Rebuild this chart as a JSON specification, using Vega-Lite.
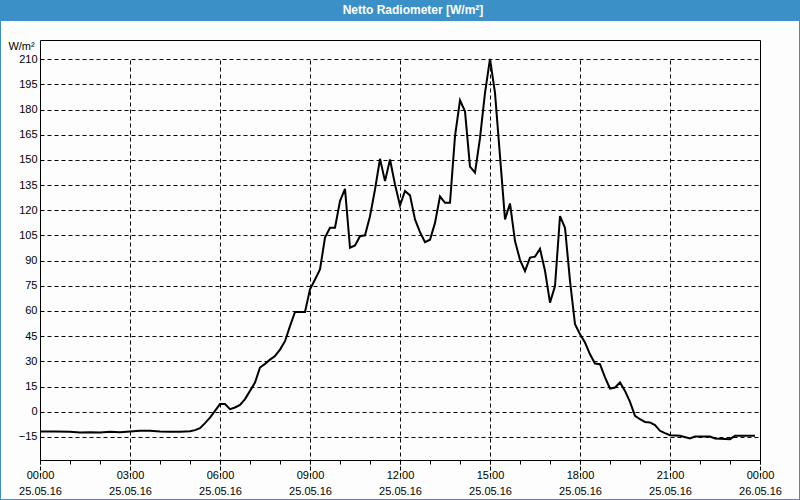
{
  "$schema": "https://vega.github.io/schema/vega-lite/v6.json",
  "autosize": {"type": "none"},
  "width": 798,
  "height": 478,
  "padding": {"left": 1, "right": 1, "top": 21, "bottom": 1},
  "background": "#3c90c8",
  "title": {"text": "Netto Radiometer [W/m²]", "color": "#ffffff", "font": "Liberation Sans", "fontSize": 12, "fontWeight": "bold", "anchor": "middle", "frame": "group", "baseline": "middle", "offset": -1, "dx": 13},
  "config": {"view": {"fill": "#fcfdfc", "stroke": null}, "font": "Liberation Sans"},
  "resolve": {"axis": {"x": "independent", "y": "independent"}},
  "data": {"values": [
    {"t": "2016-05-25T00:00:00Z", "v": -11.8},
    {"t": "2016-05-25T00:30:00Z", "v": -11.8},
    {"t": "2016-05-25T01:00:00Z", "v": -12.0},
    {"t": "2016-05-25T01:20:00Z", "v": -12.4},
    {"t": "2016-05-25T01:40:00Z", "v": -12.2},
    {"t": "2016-05-25T02:00:00Z", "v": -12.4},
    {"t": "2016-05-25T02:20:00Z", "v": -12.0},
    {"t": "2016-05-25T02:40:00Z", "v": -12.2},
    {"t": "2016-05-25T03:00:00Z", "v": -11.8},
    {"t": "2016-05-25T03:20:00Z", "v": -11.4},
    {"t": "2016-05-25T03:40:00Z", "v": -11.4},
    {"t": "2016-05-25T04:00:00Z", "v": -11.8},
    {"t": "2016-05-25T04:20:00Z", "v": -12.0},
    {"t": "2016-05-25T04:40:00Z", "v": -12.0},
    {"t": "2016-05-25T05:00:00Z", "v": -11.6},
    {"t": "2016-05-25T05:10:00Z", "v": -11.0},
    {"t": "2016-05-25T05:20:00Z", "v": -9.8},
    {"t": "2016-05-25T05:30:00Z", "v": -6.8},
    {"t": "2016-05-25T05:40:00Z", "v": -3.5},
    {"t": "2016-05-25T05:50:00Z", "v": 0.5},
    {"t": "2016-05-25T06:00:00Z", "v": 4.5},
    {"t": "2016-05-25T06:10:00Z", "v": 4.5},
    {"t": "2016-05-25T06:20:00Z", "v": 1.5},
    {"t": "2016-05-25T06:30:00Z", "v": 2.5},
    {"t": "2016-05-25T06:40:00Z", "v": 4.0},
    {"t": "2016-05-25T06:50:00Z", "v": 7.5},
    {"t": "2016-05-25T07:00:00Z", "v": 12.4},
    {"t": "2016-05-25T07:10:00Z", "v": 17.4},
    {"t": "2016-05-25T07:20:00Z", "v": 26.3},
    {"t": "2016-05-25T07:30:00Z", "v": 28.5},
    {"t": "2016-05-25T07:40:00Z", "v": 31.0},
    {"t": "2016-05-25T07:50:00Z", "v": 33.2},
    {"t": "2016-05-25T08:00:00Z", "v": 37.0},
    {"t": "2016-05-25T08:10:00Z", "v": 42.0},
    {"t": "2016-05-25T08:20:00Z", "v": 51.0},
    {"t": "2016-05-25T08:30:00Z", "v": 59.4},
    {"t": "2016-05-25T08:40:00Z", "v": 59.4},
    {"t": "2016-05-25T08:50:00Z", "v": 59.4},
    {"t": "2016-05-25T09:00:00Z", "v": 72.9},
    {"t": "2016-05-25T09:10:00Z", "v": 78.8},
    {"t": "2016-05-25T09:20:00Z", "v": 84.8},
    {"t": "2016-05-25T09:30:00Z", "v": 103.7},
    {"t": "2016-05-25T09:40:00Z", "v": 109.6},
    {"t": "2016-05-25T09:50:00Z", "v": 109.6},
    {"t": "2016-05-25T10:00:00Z", "v": 125.5},
    {"t": "2016-05-25T10:10:00Z", "v": 132.8},
    {"t": "2016-05-25T10:20:00Z", "v": 97.7},
    {"t": "2016-05-25T10:30:00Z", "v": 99.1},
    {"t": "2016-05-25T10:40:00Z", "v": 104.6},
    {"t": "2016-05-25T10:50:00Z", "v": 105.1},
    {"t": "2016-05-25T11:00:00Z", "v": 116.5},
    {"t": "2016-05-25T11:10:00Z", "v": 132.4},
    {"t": "2016-05-25T11:20:00Z", "v": 150.7},
    {"t": "2016-05-25T11:30:00Z", "v": 137.4},
    {"t": "2016-05-25T11:40:00Z", "v": 150.3},
    {"t": "2016-05-25T11:50:00Z", "v": 135.4},
    {"t": "2016-05-25T12:00:00Z", "v": 122.9},
    {"t": "2016-05-25T12:10:00Z", "v": 131.5},
    {"t": "2016-05-25T12:20:00Z", "v": 128.9},
    {"t": "2016-05-25T12:30:00Z", "v": 114.6},
    {"t": "2016-05-25T12:40:00Z", "v": 107.0},
    {"t": "2016-05-25T12:50:00Z", "v": 101.0},
    {"t": "2016-05-25T13:00:00Z", "v": 102.5},
    {"t": "2016-05-25T13:10:00Z", "v": 112.5},
    {"t": "2016-05-25T13:20:00Z", "v": 128.3},
    {"t": "2016-05-25T13:30:00Z", "v": 124.5},
    {"t": "2016-05-25T13:40:00Z", "v": 124.5},
    {"t": "2016-05-25T13:50:00Z", "v": 164.2},
    {"t": "2016-05-25T14:00:00Z", "v": 185.6},
    {"t": "2016-05-25T14:10:00Z", "v": 179.0},
    {"t": "2016-05-25T14:20:00Z", "v": 146.0},
    {"t": "2016-05-25T14:30:00Z", "v": 142.4},
    {"t": "2016-05-25T14:40:00Z", "v": 163.0},
    {"t": "2016-05-25T14:50:00Z", "v": 190.0},
    {"t": "2016-05-25T15:00:00Z", "v": 210.2},
    {"t": "2016-05-25T15:10:00Z", "v": 190.0},
    {"t": "2016-05-25T15:20:00Z", "v": 152.3},
    {"t": "2016-05-25T15:30:00Z", "v": 114.6},
    {"t": "2016-05-25T15:40:00Z", "v": 124.1},
    {"t": "2016-05-25T15:50:00Z", "v": 101.7},
    {"t": "2016-05-25T16:00:00Z", "v": 90.5},
    {"t": "2016-05-25T16:10:00Z", "v": 83.8},
    {"t": "2016-05-25T16:20:00Z", "v": 91.8},
    {"t": "2016-05-25T16:30:00Z", "v": 92.4},
    {"t": "2016-05-25T16:40:00Z", "v": 97.1},
    {"t": "2016-05-25T16:50:00Z", "v": 84.0},
    {"t": "2016-05-25T17:00:00Z", "v": 65.0},
    {"t": "2016-05-25T17:10:00Z", "v": 74.9},
    {"t": "2016-05-25T17:20:00Z", "v": 116.5},
    {"t": "2016-05-25T17:30:00Z", "v": 109.6},
    {"t": "2016-05-25T17:40:00Z", "v": 78.0},
    {"t": "2016-05-25T17:50:00Z", "v": 52.1},
    {"t": "2016-05-25T18:00:00Z", "v": 46.1},
    {"t": "2016-05-25T18:10:00Z", "v": 41.2},
    {"t": "2016-05-25T18:20:00Z", "v": 34.2},
    {"t": "2016-05-25T18:30:00Z", "v": 28.7},
    {"t": "2016-05-25T18:40:00Z", "v": 28.3},
    {"t": "2016-05-25T18:50:00Z", "v": 20.4},
    {"t": "2016-05-25T19:00:00Z", "v": 13.8},
    {"t": "2016-05-25T19:10:00Z", "v": 14.4},
    {"t": "2016-05-25T19:20:00Z", "v": 17.4},
    {"t": "2016-05-25T19:30:00Z", "v": 12.4},
    {"t": "2016-05-25T19:40:00Z", "v": 5.8},
    {"t": "2016-05-25T19:50:00Z", "v": -2.5},
    {"t": "2016-05-25T20:00:00Z", "v": -4.5},
    {"t": "2016-05-25T20:10:00Z", "v": -6.1},
    {"t": "2016-05-25T20:20:00Z", "v": -6.4},
    {"t": "2016-05-25T20:30:00Z", "v": -8.0},
    {"t": "2016-05-25T20:40:00Z", "v": -11.4},
    {"t": "2016-05-25T20:50:00Z", "v": -12.8},
    {"t": "2016-05-25T21:00:00Z", "v": -14.0},
    {"t": "2016-05-25T21:20:00Z", "v": -14.4},
    {"t": "2016-05-25T21:40:00Z", "v": -16.0},
    {"t": "2016-05-25T21:50:00Z", "v": -14.8},
    {"t": "2016-05-25T22:20:00Z", "v": -14.8},
    {"t": "2016-05-25T22:30:00Z", "v": -16.0},
    {"t": "2016-05-25T23:00:00Z", "v": -16.4},
    {"t": "2016-05-25T23:10:00Z", "v": -14.4},
    {"t": "2016-05-25T23:50:00Z", "v": -14.4}
  ]},
  "layer": [
    {
      "mark": {"type": "line", "color": "#000000", "strokeWidth": 2},
      "encoding": {
        "x": {
          "field": "t", "type": "temporal",
          "scale": {"type": "utc", "domain": [1464134400000, 1464220800000], "range": [39, 759], "nice": false},
          "axis": {
            "orient": "bottom", "offset": -39, "title": null,
            "values": [1464134400000, 1464145200000, 1464156000000, 1464166800000, 1464177600000, 1464188400000, 1464199200000, 1464210000000, 1464220800000],
            "format": "%H:%M",
            "labelOverlap": false, "labelFlush": false, "labelBound": false,
            "labelFont": "Liberation Sans", "labelFontSize": 11, "labelColor": "#000000",
            "labelBaseline": "top", "labelPadding": 5,
            "tickSize": 4, "tickColor": "#000000", "domainColor": "#000000",
            "grid": true, "gridColor": "#000000", "gridDash": [4, 3], "gridOpacity": 1
          }
        },
        "y": {
          "field": "v", "type": "quantitative",
          "scale": {"domain": [-28.8, 221.5], "range": [439, 19], "nice": false, "zero": false},
          "axis": {
            "orient": "left", "offset": -39,
            "values": [-15, 0, 15, 30, 45, 60, 75, 90, 105, 120, 135, 150, 165, 180, 195, 210],
            "ticks": false, "labelPadding": 3,
            "labelFont": "Liberation Sans", "labelFontSize": 11, "labelColor": "#000000",
            "domainColor": "#000000",
            "grid": true, "gridColor": "#000000", "gridDash": [4, 3], "gridOpacity": 1,
            "title": "W/m²", "titleAngle": 0, "titleX": -19, "titleY": 25,
            "titleAlign": "center", "titleBaseline": "middle",
            "titleFont": "Liberation Sans", "titleFontWeight": "normal", "titleFontSize": 11, "titleColor": "#000000"
          }
        }
      }
    },
    {
      "mark": {"type": "line", "strokeOpacity": 0},
      "encoding": {
        "x": {"field": "t", "type": "temporal",
          "axis": {"orient": "top", "offset": -19, "labels": false, "ticks": false, "grid": false, "domainColor": "#000000", "title": null}},
        "y": {"field": "v", "type": "quantitative",
          "axis": {"orient": "right", "offset": -39, "labels": false, "ticks": false, "grid": false, "domainColor": "#000000", "title": null}}
      }
    },
    {
      "mark": {"type": "line", "strokeOpacity": 0},
      "encoding": {
        "x": {"field": "t", "type": "temporal",
          "axis": {
            "orient": "bottom", "offset": -39, "title": null,
            "values": [1464134400000, 1464145200000, 1464156000000, 1464166800000, 1464177600000, 1464188400000, 1464199200000, 1464210000000, 1464220800000],
            "format": "%d.%m.%y",
            "labelOverlap": false, "labelFlush": false, "labelBound": false,
            "labelFont": "Liberation Sans", "labelFontSize": 11, "labelColor": "#000000",
            "labelBaseline": "top", "labelPadding": 25,
            "ticks": false, "tickSize": 0, "domain": false, "grid": false
          }},
        "y": {"field": "v", "type": "quantitative", "axis": null}
      }
    },
    {
      "mark": {"type": "line", "strokeOpacity": 0},
      "encoding": {
        "x": {"field": "t", "type": "temporal",
          "axis": {
            "orient": "bottom", "offset": -39, "title": null,
            "values": [1464134400000, 1464138000000, 1464141600000, 1464145200000, 1464148800000, 1464152400000, 1464156000000, 1464159600000, 1464163200000, 1464166800000, 1464170400000, 1464174000000, 1464177600000, 1464181200000, 1464184800000, 1464188400000, 1464192000000, 1464195600000, 1464199200000, 1464202800000, 1464206400000, 1464210000000, 1464213600000, 1464217200000, 1464220800000],
            "labels": false, "tickSize": 4, "tickColor": "#000000", "domain": false, "grid": false
          }},
        "y": {"field": "v", "type": "quantitative", "axis": null}
      }
    }
  ]
}
